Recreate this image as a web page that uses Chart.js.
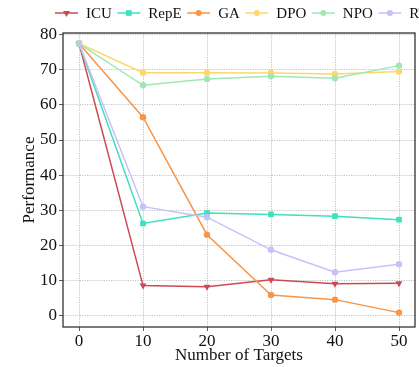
<!DOCTYPE html>
<html>
<head>
<meta charset="utf-8">
<script src="https://cdn.jsdelivr.net/npm/chart.js@4"></script>
<style>
  html, body { margin: 0; padding: 0; background: #fff; overflow: hidden; }
  #wrap { width: 419px; height: 367px; }
</style>
</head>
<body>
<div id="wrap"><canvas id="chart" width="419" height="367"></canvas></div>
<script>
const targets = [0, 10, 20, 30, 40, 50];
const seriesNames = ["ICU", "RepE", "GA", "DPO", "NPO", "RT"];
const icu = [77.5, 8.5, 8.2, 10.2, 9.0, 9.2];
const repe = [77.5, 26.2, 29.2, 28.8, 28.3, 27.3];
const ga = [77.5, 56.5, 23.0, 5.8, 4.5, 0.8];
const dpo = [77.5, 69.2, 69.2, 69.1, 68.8, 69.5];
const npo = [77.5, 65.6, 67.4, 68.2, 67.6, 71.2];
const rt = [77.5, 31.0, 28.0, 18.7, 12.3, 14.6];
const xTicks = [0, 10, 20, 30, 40, 50];
const yTicks = [0, 10, 20, 30, 40, 50, 60, 70, 80];

const colors = ["#cc4a52", "#3fe0bd", "#f79548", "#fdd76a", "#9fe8b4", "#cbbff9"];
const markers = ["triangle", "rect", "circle", "circle", "circle", "circle"];
const values = [icu, repe, ga, dpo, npo, rt];
const FONT = "'Liberation Serif', 'Times New Roman', serif";

function pointStyleFor(i) {
  if (i === 5) return targets.map((_, j) => (j === 0 ? "rect" : "circle"));
  return markers[i];
}

const datasets = seriesNames.map((name, i) => ({
  label: name,
  data: targets.map((x, j) => ({ x, y: values[i][j] })),
  borderColor: colors[i],
  backgroundColor: colors[i],
  borderWidth: 1.5,
  pointStyle: pointStyleFor(i),
  pointRotation: markers[i] === "triangle" ? 180 : 0,
  pointRadius: markers[i] === "circle" ? 3.2 : 4,
  pointBorderWidth: 0,
  order: 5 - i,
  tension: 0,
}));

// matplotlib style legend: line + marker + label, across the top
const topLegend = {
  id: "topLegend",
  afterDraw(chart) {
    const ctx = chart.ctx;
    let x = 55;
    const y = 13;
    ctx.save();
    ctx.font = "15px " + FONT;
    ctx.textBaseline = "middle";
    datasets.forEach((ds, i) => {
      ctx.strokeStyle = colors[i];
      ctx.fillStyle = colors[i];
      ctx.lineWidth = 1.5;
      ctx.beginPath();
      ctx.moveTo(x, y);
      ctx.lineTo(x + 23, y);
      ctx.stroke();
      Chart.helpers.drawPoint(ctx, {
        pointStyle: markers[i],
        radius: markers[i] === "circle" ? 3 : 4,
        rotation: markers[i] === "triangle" ? 180 : 0,
        borderWidth: 0,
      }, x + 11.5, y);
      ctx.fillStyle = "#111";
      ctx.fillText(ds.label, x + 31, y + 1);
      x += 31 + ctx.measureText(ds.label).width + 5.5;
    });
    ctx.restore();
  },
};

const frame = {
  id: "frame",
  afterDatasetsDraw(chart) {
    const { left, top, right, bottom } = chart.chartArea;
    const ctx = chart.ctx;
    ctx.save();
    ctx.strokeStyle = "#333";
    ctx.lineWidth = 1.3;
    ctx.strokeRect(left, top, right - left, bottom - top);
    ctx.restore();
  },
};

new Chart(document.getElementById("chart"), {
  type: "line",
  data: { datasets },
  options: {
    responsive: false,
    animation: false,
    layout: { padding: { top: 33, right: 2, left: 0, bottom: 0 } },
    plugins: { legend: { display: false }, tooltip: { enabled: false } },
    scales: {
      x: {
        type: "linear",
        min: -2.5,
        max: 52.5,
        afterFit(scale) { scale.height = 40; },
        afterBuildTicks(scale) { scale.ticks = xTicks.map((v) => ({ value: v })); },
        ticks: { font: { family: FONT, size: 17 }, color: "#111", padding: 0 },
        grid: { color: "#b4b4b4", lineWidth: 0.8, tickLength: 4, tickColor: "#333", tickBorderDash: [] },
        border: { display: false, dash: [1.2, 1.2] },
        title: { display: true, text: "Number of Targets", font: { family: FONT, size: 17 }, color: "#111", padding: { top: 0, bottom: 1 } },
      },
      y: {
        min: -3.3,
        max: 80.5,
        afterFit(scale) { scale.width = 63; },
        afterBuildTicks(scale) { scale.ticks = yTicks.map((v) => ({ value: v })); },
        ticks: { font: { family: FONT, size: 17 }, color: "#111", padding: 2 },
        grid: { color: "#b4b4b4", lineWidth: 0.8, tickLength: 4, tickColor: "#333", tickBorderDash: [] },
        border: { display: false, dash: [1.2, 1.2] },
        title: { display: true, text: "Performance", font: { family: FONT, size: 17 }, color: "#111", padding: { top: 19, bottom: 0 } },
      },
    },
  },
  plugins: [topLegend, frame],
});
</script>
</body>
</html>
